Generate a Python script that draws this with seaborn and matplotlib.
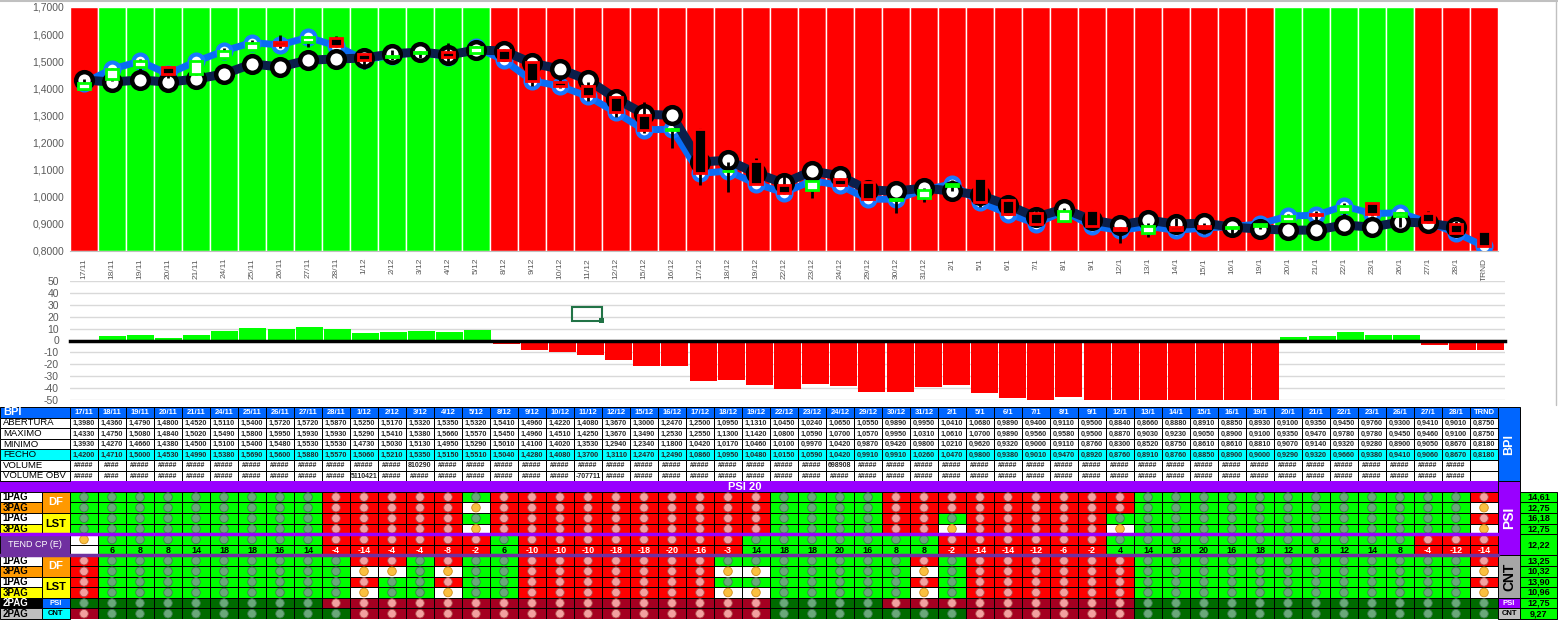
import numpy as np
import seaborn as sns
import matplotlib.pyplot as plt
from matplotlib.colors import ListedColormap
from matplotlib.patches import Rectangle
from matplotlib.lines import Line2D

# ---- dados ----
dates = ["17/11", "18/11", "19/11", "20/11", "21/11", "24/11", "25/11", "26/11", "27/11", "28/11",
         "1/12", "2/12", "3/12", "4/12", "5/12", "8/12", "9/12", "10/12", "11/12", "12/12", "15/12",
         "16/12", "17/12", "18/12", "19/12", "22/12", "23/12", "24/12", "29/12", "30/12", "31/12",
         "2/1", "5/1", "6/1", "7/1", "8/1", "9/1", "12/1", "13/1", "14/1", "15/1", "16/1", "19/1",
         "20/1", "21/1", "22/1", "23/1", "26/1", "27/1", "28/1", "TRND"]

abertura = [1.3980, 1.4360, 1.4790, 1.4800, 1.4520, 1.5110, 1.5400, 1.5720, 1.5720, 1.5870,
            1.5250, 1.5170, 1.5320, 1.5350, 1.5320, 1.5410, 1.4960, 1.4220, 1.4080, 1.3670, 1.3000,
            1.2470, 1.2500, 1.0950, 1.1310, 1.0450, 1.0240, 1.0650, 1.0550, 0.9890, 0.9950,
            1.0410, 1.0680, 0.9890, 0.9400, 0.9110, 0.9500, 0.8840, 0.8660, 0.8880, 0.8910, 0.8850,
            0.8930, 0.9100, 0.9350, 0.9450, 0.9760, 0.9300, 0.9410, 0.9010, 0.8750]
maximo = [1.4330, 1.4750, 1.5080, 1.4840, 1.5020, 1.5490, 1.5800, 1.5950, 1.5930, 1.5930,
          1.5290, 1.5410, 1.5380, 1.5660, 1.5570, 1.5450, 1.4960, 1.4510, 1.4250, 1.3670, 1.3490,
          1.2530, 1.2550, 1.1300, 1.1420, 1.0800, 1.0590, 1.0700, 1.0570, 0.9950, 1.0310,
          1.0610, 1.0700, 0.9890, 0.9560, 0.9580, 0.9500, 0.8870, 0.9030, 0.9230, 0.9050, 0.8900,
          0.9100, 0.9350, 0.9470, 0.9780, 0.9780, 0.9450, 0.9460, 0.9100, 0.8750]
minimo = [1.3930, 1.4270, 1.4660, 1.4380, 1.4500, 1.5100, 1.5400, 1.5480, 1.5530, 1.5530,
          1.4730, 1.5030, 1.5130, 1.4950, 1.5290, 1.5010, 1.4100, 1.4020, 1.3530, 1.2940, 1.2340,
          1.1800, 1.0420, 1.0170, 1.0460, 1.0100, 0.9970, 1.0420, 0.9870, 0.9420, 0.9800,
          1.0210, 0.9620, 0.9320, 0.9000, 0.9110, 0.8760, 0.8300, 0.8520, 0.8750, 0.8610, 0.8610,
          0.8810, 0.9070, 0.9140, 0.9320, 0.9280, 0.8900, 0.9050, 0.8670, 0.8180]
fecho = [1.4200, 1.4710, 1.5000, 1.4530, 1.4990, 1.5380, 1.5690, 1.5600, 1.5880, 1.5570,
         1.5060, 1.5210, 1.5350, 1.5150, 1.5510, 1.5040, 1.4280, 1.4080, 1.3700, 1.3110, 1.2470,
         1.2490, 1.0860, 1.0950, 1.0480, 1.0150, 1.0590, 1.0420, 0.9910, 0.9910, 1.0260,
         1.0470, 0.9800, 0.9380, 0.9010, 0.9470, 0.8920, 0.8760, 0.8910, 0.8760, 0.8850, 0.8900,
         0.9000, 0.9290, 0.9320, 0.9660, 0.9380, 0.9410, 0.9060, 0.8670, 0.8180]
# linha escura (media)
media = [1.431, 1.423, 1.431, 1.423, 1.434, 1.453, 1.490, 1.479, 1.504, 1.508,
         1.512, 1.527, 1.534, 1.523, 1.541, 1.538, 1.493, 1.471, 1.431, 1.362, 1.305,
         1.300, 1.128, 1.135, 1.087, 1.050, 1.095, 1.077, 1.025, 1.021, 1.032,
         1.021, 1.006, 0.969, 0.925, 0.955, 0.914, 0.896, 0.914, 0.899, 0.903, 0.888,
         0.881, 0.877, 0.877, 0.896, 0.888, 0.907, 0.903, 0.888, np.nan]
fundo = "R GGGGGGGGGGGGGG RRRRRRRRRRRRRRRRRRRRRRRRRRRR GGGGG RRR".replace(" ", "")

fluxo = [0, 3.5, 5, 1.7, 5, 7.7, 10.6, 9.4, 11.1, 9.4, 6, 6.9, 7.7, 6.9, 8.6,
         -2.6, -7.7, -9.4, -12, -16.3, -21.4, -21.4, -34.3, -33.4, -37.7,
         -41, -36.9, -38.6, -42.9, -42.9, -39.4, -37.7, -43.7, -48, -50, -47.1,
         -50, -50, -50, -50, -50, -50, -50, 2.9, 3.7, 7.1, 4.6, 4.6, -3.4, -7.7, -7.7]

volume_esp = {1: "####", 12: "810290", 27: "698908"}
obv_esp = {1: "####", 10: "5110421", 18: "-707711"}

tend = [None, 6, 8, 8, 14, 18, 18, 16, 14, -4, -14, -4, -4, -8, -2, 6, -10, -10, -10, -18,
        -18, -20, -16, -3, 14, 18, 18, 20, 16, 8, 8, -2, -14, -14, -12, -6, -2, 4, 14, 18, 20,
        16, 18, 12, 8, 12, 14, 8, -4, -12, -14]

# semaforos (G verde, R vermelho, W branco/laranja, K verde escuro, D vermelho escuro)
df_1pag = "GGGGGGGGG RRRRR G RRRRRRRRRR GGGG RRRRRRRRR GGGGGGGGGGGG R"
df_3pag = "GGGGGGGGG RRRRR W RRRRRRRRRR GGGG RRRRRRRRR GGGGGGGGGGGG W"
lst_1pag = "GGGGGGGGG RRRRR G RRRRRRRRRR GGGG RR G RRRRR GGGGGGGGGGGGG R"
lst_3pag = "GGGGGGGGG RRRRR W RRRRRRRRRR GGGG RR W RRRRR W GGGGGGGGGGGG W"
tend_cp = "W GGGGGGGG RRRRRR G RRRRRRRR GGGGGGG RRRRRR GGGGGGGGGGG RRR"
df2_1pag = "R GGGGGGGGG RR G R GG RRRRRRR GGGGGGG R G RRRRRR GGGGGGGGGGGG R"
df2_3pag = "R GGGGGGGGG WW G W GG RRRRRRR WW GGGGG W G RRRRRR GGGGGGGGGGGG W"
lst2_1pag = "R GGGGGGGGG R GG R GG RRRRRRR GGGGGGG R G RRRRRR GGGGGGGGGGGG R"
lst2_3pag = "R GGGGGGGGG W GG W GG RRRRRRR WW GGGGG W G RRRRRR GGGGGGGGGGGG W"
psi_2pag = "KKKKKKKKK DDDDDDDDDDDDDDDD KKKK DDDDDDDDD KKKKKKKKKKKKK"
cnt_2pag = "D KKKKKKKKK DDDDDDDDDDDDDDD KKKKKKK DDDDDD KKKKKKKKKKKKK"

valores_dir = ["14,61", "12,75", "16,18", "12,75", "12,22", "13,25", "10,32",
               "13,90", "10,96", "12,75", "9,27"]

# ---- estilo ----
sns.set_style("white")
plt.rcParams["font.family"] = ["Liberation Sans", "DejaVu Sans"]

W, H = 1558, 620
fig = plt.figure(figsize=(W / 100, H / 100), dpi=100)


def caixa(x0, y0, x1, y1):
    return [x0 / W, 1 - y1 / H, (x1 - x0) / W, (y1 - y0) / H]


n = len(dates)
x = np.arange(n)
cinza = "#595959"

# ---- grafico de cotacoes ----
ax = fig.add_axes(caixa(70, 7, 1498, 251))
cores_fundo = ["#00FF00" if c == "G" else "#FF0000" for c in fundo]
ax.bar(x, 0.9, bottom=0.8, width=0.97, color=cores_fundo, zorder=0)
sns.lineplot(x=x, y=fecho, color="#0A6CF5", lw=5, marker="o", ms=10, mfc="white",
             mec="#1A78FF", mew=3, ax=ax, zorder=2)
sns.lineplot(x=x[:-1], y=media[:-1], color="#0B1F4B", lw=6.5, marker="o", ms=12,
             mfc="white", mec="black", mew=3.2, ax=ax, zorder=3)
ab = np.array(abertura)
fe = np.array(fecho)
sobe = fe >= ab
ax.vlines(x, minimo, maximo, color="black", lw=2, zorder=4)
ax.bar(x, fe - ab, bottom=ab, width=0.42,
       color=np.where(sobe, "white", "black"),
       edgecolor=np.where(sobe, "#00FF00", "#FF0000"), lw=2, zorder=5)
ax.set_xlim(-0.5, n - 0.5)
ax.set_ylim(0.8, 1.7)
yt = np.round(np.arange(0.8, 1.71, 0.1), 1)
ax.set_yticks(yt)
ax.set_yticklabels([f"{v:.4f}".replace(".", ",") for v in yt], color=cinza, fontsize=7.5)
ax.set_xticks(x)
ax.set_xticklabels(dates, rotation=90, color=cinza, fontsize=6)
ax.set_xticks(np.arange(-0.5, n), minor=True)
ax.tick_params(axis="x", which="major", length=0, pad=5)
ax.tick_params(axis="x", which="minor", length=4, color="#BFBFBF", direction="out")
ax.tick_params(axis="y", length=0, pad=4)
for s in ["top", "right", "left"]:
    ax.spines[s].set_visible(False)
ax.spines["bottom"].set_color("#BFBFBF")
ax.set_xlabel("")
ax.set_ylabel("")

# ---- grafico de barras (fluxo) ----
axm = fig.add_axes(caixa(70, 281, 1505, 400))
sinal = ["pos" if v >= 0 else "neg" for v in fluxo]
sns.barplot(x=x, y=fluxo, hue=sinal, palette={"pos": "#00FF00", "neg": "#FF0000"},
            dodge=False, width=0.96, saturation=1, errorbar=None, legend=False,
            linewidth=0, ax=axm)
axm.set_xlim(-0.5, n - 0.5)
axm.set_ylim(-50, 50)
axm.set_yticks(np.arange(-50, 51, 10))
axm.set_yticklabels([str(v) for v in range(-50, 51, 10)], color=cinza, fontsize=7.5)
axm.yaxis.grid(True, color="#D9D9D9", lw=1)
axm.set_axisbelow(True)
for s in ["top", "right", "left"]:
    axm.spines[s].set_visible(False)
axm.spines["bottom"].set_position(("data", 0))
axm.spines["bottom"].set_linewidth(2.5)
axm.spines["bottom"].set_color("black")
axm.spines["bottom"].set_zorder(5)
axm.set_xticks(np.arange(-0.5, n), minor=True)
axm.tick_params(axis="x", which="major", length=0, labelbottom=False)
axm.tick_params(axis="x", which="minor", length=3, width=1, color="black", direction="out")
axm.tick_params(axis="y", length=0, pad=8)
axm.set_xlabel("")
axm.set_ylabel("")

# ---- tabela ----
linhas = ["H" * n, "W" * n, "W" * n, "W" * n, "C" * n, "W" * n, "W" * n, "P" * n,
          df_1pag, df_3pag, lst_1pag, lst_3pag, tend_cp, tend_cp,
          df2_1pag, df2_3pag, lst2_1pag, lst2_3pag, psi_2pag, cnt_2pag]
linhas = [l.replace(" ", "") for l in linhas]
codigo = {"W": 0, "R": 1, "G": 2, "D": 3, "K": 4, "H": 5, "C": 6, "P": 7}
paleta = ["#FFFFFF", "#FF0000", "#00FF00", "#A50021", "#006B00", "#0066FF", "#00FFFF", "#9900FF"]
mat = np.array([[codigo[c] for c in l] for l in linhas])

axt = fig.add_axes(caixa(70, 407, 1498, 619))
sns.heatmap(mat, cmap=ListedColormap(paleta), vmin=-0.5, vmax=7.5, cbar=False,
            linewidths=0.7, linecolor="black", xticklabels=False, yticklabels=False, ax=axt)
axt.set_xlim(0, n)
axt.set_ylim(len(linhas), 0)


def celula(x0, y0, w, h, fc, txt="", tc="black", size=7, weight="bold", ha="center",
           rot=0, lw=0.7):
    axt.add_patch(Rectangle((x0, y0), w, h, fc=fc, ec="black", lw=lw, clip_on=False, zorder=4))
    if txt:
        tx = x0 + w / 2 if ha == "center" else x0 + 0.1
        axt.text(tx, y0 + h / 2, txt, ha=ha, va="center", color=tc, fontsize=size,
                 fontweight=weight, rotation=rot, clip_on=False, zorder=6)


# faixa roxa PSI 20
axt.add_patch(Rectangle((-2.5, 7), n + 2.5, 1, fc="#9900FF", ec="none", clip_on=False, zorder=4))
axt.text(24.1, 7.5, "PSI 20", color="white", fontsize=8, fontweight="bold",
         ha="center", va="center", zorder=6)

# cabecalho e valores
for j, d in enumerate(dates):
    axt.text(j + 0.5, 0.55, d, color="white", fontsize=5.5, fontweight="bold",
             ha="center", va="center")
    for i, serie in zip([1, 2, 3, 4], [abertura, maximo, minimo, fecho]):
        axt.text(j + 0.5, i + 0.55, f"{serie[j]:.4f}".replace(".", ","), fontsize=5.2,
                 fontweight="bold", ha="center", va="center")
    if j < n - 1:
        axt.text(j + 0.5, 5.55, volume_esp.get(j, "#####"), fontsize=5,
                 fontweight="bold", ha="center", va="center")
        axt.text(j + 0.5, 6.55, obv_esp.get(j, "#####"), fontsize=5,
                 fontweight="bold", ha="center", va="center")

# semaforos
luz = {"R": ("#F4A0A0", "#B04848"), "D": ("#F4A0A0", "#B04848"),
       "G": ("#6AA87A", "#3C7A4C"), "K": ("#6AA87A", "#3C7A4C"),
       "W": ("#FBC040", "#D08A18")}
px, py, pf, pe = [], [], [], []
for i, l in enumerate(linhas):
    if i < 8 or i == 13:
        continue
    for j, c in enumerate(l):
        px.append(j + 0.5)
        py.append(i + 0.5)
        pf.append(luz[c][0])
        pe.append(luz[c][1])
axt.scatter(px, py, s=38, c=pf, edgecolors=pe, linewidths=0.6, zorder=5)

# numeros TEND CP
for j, v in enumerate(tend):
    if v is None:
        continue
    cor = "black" if linhas[13][j] == "G" else "white"
    axt.text(j + 0.5, 13.55, str(v), color=cor, fontsize=6.5, fontweight="bold",
             ha="center", va="center", zorder=6)

# linhas roxas
axt.plot([-2.5, n], [12, 12], color="#9900FF", lw=2.5, clip_on=False, zorder=7)
axt.plot([-2.5, n], [14, 14], color="#7030A0", lw=2.5, clip_on=False, zorder=7)

# rotulos a esquerda
celula(-2.5, 0, 2.5, 1, "#0066FF", "BPI", "white", 8, ha="left")
for i, (t, fc) in enumerate([("ABERTURA", "white"), ("MAXIMO", "white"), ("MINIMO", "white"),
                             ("FECHO", "#00FFFF"), ("VOLUME", "white"),
                             ("VOLUME OBV", "white")], start=1):
    celula(-2.5, i, 2.5, 1, fc, t, "black", 6.8, weight="normal", ha="left")

for base in [8, 14]:
    celula(-2.5, base, 1.5, 1, "white", "1PAG", "black", 7, ha="left")
    celula(-2.5, base + 1, 1.5, 1, "#FF9900", "3PAG", "black", 7, ha="left")
    celula(-2.5, base + 2, 1.5, 1, "white", "1PAG", "black", 7, ha="left")
    celula(-2.5, base + 3, 1.5, 1, "#FFFF00", "3PAG", "black", 7, ha="left")
    celula(-1.0, base, 1.0, 2, "#FF9900", "DF", "white", 8)
    celula(-1.0, base + 2, 1.0, 2, "#FFFF00", "LST", "black", 8)
celula(-2.5, 12, 2.5, 2, "#7030A0", "TEND CP (E)", "white", 6.5, weight="normal")
celula(-2.5, 18, 1.5, 1, "black", "2PAG", "white", 7, ha="left")
celula(-1.0, 18, 1.0, 1, "#0066FF", "PSI", "white", 5.5)
celula(-2.5, 19, 1.5, 1, "#BFBFBF", "2PAG", "black", 7, ha="left")
celula(-1.0, 19, 1.0, 1, "#00FFFF", "CNT", "black", 5.5)

# blocos a direita
bx = n
bw = (1520 - 1498) / 28
celula(bx, 0, bw, 7, "#0066FF", "BPI", "white", 9, rot=90)
celula(bx, 7, bw, 7, "#9900FF", "PSI", "white", 10, rot=90)
celula(bx, 14, bw, 4, "#A6A6A6", "CNT", "black", 10, rot=90)
celula(bx, 18, bw, 1, "#9900FF", "PSI", "white", 5.5)
celula(bx, 19, bw, 1, "#BFBFBF", "CNT", "black", 5.5)
vx = bx + bw
vw = (1557 - 1520) / 28
spans = [(8, 1), (9, 1), (10, 1), (11, 1), (12, 2), (14, 1), (15, 1), (16, 1), (17, 1),
         (18, 1), (19, 1)]
for (r0, h), v in zip(spans, valores_dir):
    celula(vx, r0, vw, h, "#00FF00", v, "black", 6.5)

# bordas da folha
fig.add_artist(Line2D([0, 1], [1 - 1 / H] * 2, color="#C0C0C0", lw=1.5))
fig.add_artist(Line2D([1556 / W] * 2, [1, 1 - 405 / H], color="#C0C0C0", lw=1))
fig.add_artist(Rectangle((572 / W, 1 - 321 / H), 30 / W, 14 / H, transform=fig.transFigure,
                         fill=False, ec="#217346", lw=1.5))
fig.add_artist(Rectangle((599 / W, 1 - 323 / H), 5 / W, 5 / H, transform=fig.transFigure,
                         fc="#217346", ec="none"))

fig.savefig("out.png", dpi=100)
